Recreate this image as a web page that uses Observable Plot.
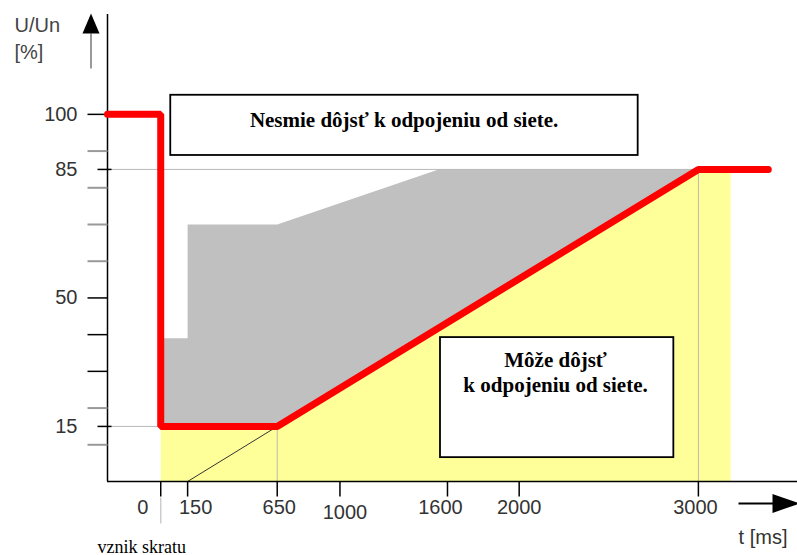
<!DOCTYPE html>
<html><head><meta charset="utf-8">
<script src="https://cdn.jsdelivr.net/npm/d3@7"></script>
<script src="https://cdn.jsdelivr.net/npm/@observablehq/plot@0.6"></script>
<style>html,body{margin:0;padding:0;background:#fff;overflow:hidden;} #chart svg{display:block;}</style>
</head><body><div id="chart"></div>
<script>
// ---------------- data ----------------
const tStart = -297;   // time at the vertical axis (ms)
const tEnd = 3553;     // time at the right end of the horizontal axis (ms)
const uTop = 127.2;    // U/Un at the top of the vertical axis (%)
const xTicks = [0, 150, 650, 1000, 1600, 2000, 3000];
const yLabels = [15, 50, 85, 100];
const yTicksLong = [30, 40, 50, 100];
const yTicksGray = [10, 20, 60, 70, 80, 90];
const yTicksShort = [15, 85];

// red limit curve U/Un [%] over t [ms]
const limitT = [tStart, 0, 0, 650, 3000, 3390];
const limitU = [100, 100, 15, 15, 85, 85];
// grey zone
const greyT = [0, 150, 150, 650, 1550, 3000, 650, 0];
const greyU = [39, 39, 70, 70, 85, 85, 15, 15];
// yellow zone
const yellowT = [0, 0, 650, 3000, 3180, 3180];
const yellowU = [0, 15, 15, 85, 85, 0];
// thin ramp line
const rampT = [150, 650];
const rampU = [0, 15];
// guide lines
const guideT1 = [tStart, tStart, 650, 3000];
const guideT2 = [3000, 0, 650, 3000];
const guideU1 = [85, 15, 0, 0];
const guideU2 = [85, 15, 15, 85];
// annotation boxes
const boxT1 = [56, 1561];
const boxT2 = [2664, 2863];
const boxU1 = [88.8, 6.5];
const boxU2 = [105.2, 39.2];
const boxTextT = [1358, 2203];
const boxTextU = [98.6, 29.9];
const boxTexts = ["Nesmie dôjsť k odpojeniu od siete.", "Môže dôjsť\nk odpojeniu od siete."];
const yTitle = ["U/Un", "[%]"];
const xTitle = "t [ms]";
const eventLabel = "vznik skratu";

// ---------------- rendering ----------------
const pts = (T, U) => T.map((t, i) => ({t, u: U[i]}));
const guides = guideT1.map((t, i) => ({t1: t, t2: guideT2[i], u1: guideU1[i], u2: guideU2[i]}));
const boxes = boxT1.map((t, i) => ({t1: t, t2: boxT2[i], u1: boxU1[i], u2: boxU2[i], tx: boxTextT[i], ux: boxTextU[i], label: boxTexts[i]}));
const seg = (x0, y0, x1, y1) => ({draw(ctx) { ctx.moveTo(x0, y0); ctx.lineTo(x1, y1); }});
const sans = "Liberation Sans, Arial, sans-serif";
const serif = "Liberation Serif, Times New Roman, serif";
const xLabelNudge = {0: [-18, 0], 150: [8, 0], 650: [2, 0], 1000: [5, 5], 1600: [-7, 0], 2000: [0, 0], 3000: [-3, 0]};

const chart = Plot.plot({
  width: 797,
  height: 555,
  marginLeft: 107,
  marginRight: 0,
  marginTop: 14,
  marginBottom: 74,
  style: {fontFamily: sans, background: "white", color: "black"},
  x: {type: "linear", domain: [tStart, tEnd], axis: null},
  y: {type: "linear", domain: [0, uTop], axis: null},
  marks: [
    Plot.line(pts(yellowT, yellowU), {x: "t", y: "u", fill: "#ffff99", stroke: "none"}),
    Plot.line(pts(greyT, greyU), {x: "t", y: "u", fill: "#c0c0c0", stroke: "none"}),
    Plot.link(guides, {x1: "t1", x2: "t2", y1: "u1", y2: "u2", stroke: "#b8b8b8", strokeWidth: 1}),
    Plot.line(pts(rampT, rampU), {x: "t", y: "u", stroke: "#333", strokeWidth: 1}),
    // axes
    Plot.ruleY([0], {stroke: "black", strokeWidth: 1.5}),
    Plot.ruleX([tStart], {stroke: "black", strokeWidth: 1.5}),
    Plot.dot(yTicksLong, {y: d => d, frameAnchor: "left", symbol: seg(-20, 0, 0, 0), stroke: "black", strokeWidth: 1.5, fill: "none"}),
    Plot.dot(yTicksGray, {y: d => d, frameAnchor: "left", symbol: seg(-20, 0, 0, 0), stroke: "#999", strokeWidth: 2, fill: "none"}),
    Plot.dot(yTicksShort, {y: d => d, frameAnchor: "left", symbol: seg(-10, 0, 4, 0), stroke: "black", strokeWidth: 1.5, fill: "none"}),
    Plot.dot(xTicks, {x: d => d, frameAnchor: "bottom", symbol: seg(0, 0, 0, 15), stroke: "black", strokeWidth: 1.5, fill: "none"}),
    Plot.dot([0], {x: d => d, frameAnchor: "bottom", symbol: seg(0, 16, 0, 42), stroke: "#cccccc", strokeWidth: 1.5, fill: "none"}),
    Plot.text(yLabels, {y: d => d, frameAnchor: "left", dx: -30, textAnchor: "end", text: d => `${d}`, fontSize: 20, fill: "#333"}),
    ...xTicks.map(t => Plot.text([t], {x: d => d, frameAnchor: "bottom", dx: xLabelNudge[t][0], dy: 32 + xLabelNudge[t][1], text: d => `${d}`, fontSize: 20, fill: "#333"})),
    // axis arrows
    Plot.dot([0], {frameAnchor: "bottom-right", symbol: {draw(ctx) { ctx.moveTo(-59, 22); ctx.lineTo(-22, 22); ctx.moveTo(-24, 14); ctx.lineTo(-1, 22); ctx.lineTo(-24, 30); ctx.closePath(); }}, fill: "black", stroke: "black", strokeWidth: 2}),
    Plot.dot([0], {frameAnchor: "top-left", symbol: seg(-16.5, 19, -16.5, 54), stroke: "#999", strokeWidth: 2, fill: "none"}),
    Plot.dot([0], {frameAnchor: "top-left", symbol: {draw(ctx) { ctx.moveTo(-25, 19); ctx.lineTo(-16.5, -1); ctx.lineTo(-8, 19); ctx.closePath(); }}, fill: "black", stroke: "none"}),
    // axis titles
    Plot.text([yTitle[0]], {frameAnchor: "top-left", dx: -93, dy: 17, textAnchor: "start", lineAnchor: "bottom", text: d => d, fontSize: 20, fill: "#444"}),
    Plot.text([yTitle[1]], {frameAnchor: "top-left", dx: -93, dy: 44, textAnchor: "start", lineAnchor: "bottom", text: d => d, fontSize: 20, fill: "#444"}),
    Plot.text([xTitle], {frameAnchor: "bottom-right", dx: -10, dy: 62, textAnchor: "end", lineAnchor: "bottom", text: d => d, fontSize: 20, fill: "#333"}),
    Plot.text([0], {x: d => d, frameAnchor: "bottom", dx: -19, dy: 71, lineAnchor: "bottom", text: () => eventLabel, fontFamily: serif, fontSize: 18, fill: "black"}),
    // limit curve
    Plot.line(pts(limitT, limitU), {x: "t", y: "u", stroke: "#ff0000", strokeWidth: 7, strokeLinejoin: "miter", strokeLinecap: "round"}),
    // annotation boxes
    Plot.rect(boxes, {x1: "t1", x2: "t2", y1: "u1", y2: "u2", fill: "white", stroke: "black", strokeWidth: 1.8}),
    Plot.text(boxes, {x: "tx", y: "ux", text: "label", fontFamily: serif, fontWeight: "bold", fontSize: 21, lineHeight: 1.16, fill: "black"})
  ]
});
document.getElementById("chart").appendChild(chart);
</script>
</body></html>
